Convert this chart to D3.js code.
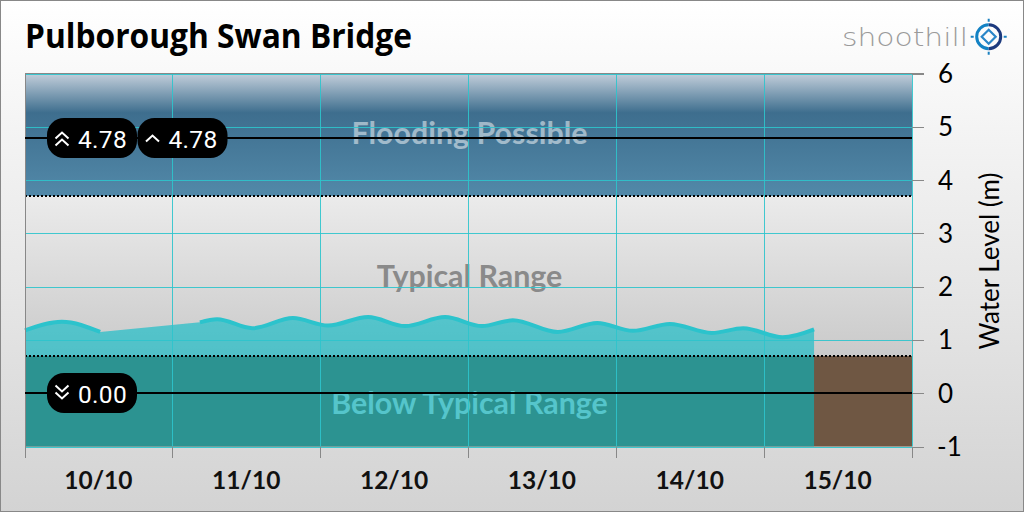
<!DOCTYPE html>
<html><head><meta charset="utf-8">
<script src="https://cdn.jsdelivr.net/npm/d3@7"></script>
<style>html,body{margin:0;padding:0;background:#fff}svg{display:block}</style>
</head><body><svg id="c" width="1024" height="512"></svg>
<script>
const title="Pulborough Swan Bridge";
const dayLabels=["10/10","11/10","12/10","13/10","14/10","15/10"];
const yTicks=[-1,0,1,2,3,4,5,6];
const hours=[0,6,12.2,28.4,31.2,36.9,43.5,49.2,55.7,61.7,68.2,74.2,79.2,86.5,92.9,98.7,104.7,111.5,116.6,123,128.1];
const levels=[1.18,1.34,1.15,1.33,1.39,1.22,1.41,1.27,1.43,1.26,1.43,1.26,1.37,1.15,1.32,1.17,1.30,1.13,1.22,1.05,1.2];
const gapFrom=12.2, gapTo=28.4;
const thresholds=[{v:4.78,labels:[["double",4.78],["single",4.78]]},{v:0,labels:[["down",0]]}];
const bands=[{name:"Flooding Possible",from:3.7,to:6},{name:"Typical Range",from:0.7,to:3.7},{name:"Below Typical Range",from:-1,to:0.7}];
const L=25,R=912,T=73.5,B=446.5;
const x=d3.scaleLinear().domain([0,144]).range([L,R]);
const y=d3.scaleLinear().domain([-1,6]).range([B,T]);
const svg=d3.select("#c"),defs=svg.append("defs");
function grad(id,stops,x1,y1,x2,y2){const g=defs.append("linearGradient").attr("id",id).attr("x1",x1).attr("x2",x2).attr("y1",y1).attr("y2",y2);
 stops.forEach(s=>g.append("stop").attr("offset",s[0]).attr("stop-color",s[1]));}
grad("bg",[[0,"#ffffff"],[1,"#d3d3d3"]],0,0,0,1);
grad("fl",[[0,"#c3cfdb"],[0.32,"#3e6e8e"],[1,"#5289a9"]],0,0,0,1);
grad("ty",[[0,"#ebebeb"],[1,"#cacaca"]],0,0,0,1);
svg.append("rect").attr("x",.5).attr("y",.5).attr("width",1023).attr("height",511).attr("fill","url(#bg)").attr("stroke","#888");
svg.append("rect").attr("x",L).attr("y",y(6)).attr("width",R-L).attr("height",y(3.7)-y(6)).attr("fill","url(#fl)");
svg.append("rect").attr("x",L).attr("y",y(3.7)).attr("width",R-L).attr("height",y(0.7)-y(3.7)).attr("fill","url(#ty)");
svg.append("rect").attr("x",L).attr("y",y(0.7)).attr("width",R-L).attr("height",y(-1)-y(0.7)).attr("fill","#6f5743");
// area and line: two measured stretches, straight across the gap
const pts=hours.map((h,i)=>({h,v:levels[i]}));
const before=pts.filter(d=>d.h<=gapFrom), after=pts.filter(d=>d.h>=gapTo);
const bridge=pts.filter(d=>d.h>=gapFrom&&d.h<=gapTo);
const curve=d3.curveMonotoneX;
const areaGen=d3.area().x(d=>x(d.h)).y0(y(-1)).y1(d=>y(d.v)).curve(curve);
const areaStraight=d3.area().x(d=>x(d.h)).y0(y(-1)).y1(d=>y(d.v));
svg.append("path").attr("fill","rgb(0,187,198)").attr("fill-opacity",.6)
 .attr("d",areaGen(before)+areaStraight(bridge)+areaGen(after));
// band labels
const fonts="Lato, 'Open Sans', sans-serif";
const bandColors=["rgba(255,255,255,0.5)","#8a8a8a","#55c5cb"], bandY=[144,287,414];
svg.selectAll(".bl").data(bands).join("text").attr("x",(L+R)/2+1).attr("y",(d,i)=>bandY[i]).attr("text-anchor","middle")
 .attr("font-family",fonts).attr("font-weight",700).attr("font-size",30.4).attr("fill",(d,i)=>bandColors[i]).text(d=>d.name);
// grid
const gridC="#2ec4cc";
const py=v=>Math.round(y(v))+.5;
const xTicks=d3.range(0,145,24);
const px=h=>Math.floor(x(h))+.5;
svg.selectAll(".gy").data(yTicks).join("line").attr("x1",L).attr("x2",R).attr("y1",d=>py(d)).attr("y2",d=>py(d)).attr("stroke",gridC).attr("stroke-opacity",.9);
svg.selectAll(".gx").data(xTicks).join("line").attr("x1",d=>px(d)).attr("x2",d=>px(d)).attr("y1",T).attr("y2",B).attr("stroke",gridC).attr("stroke-opacity",.9);
const lineGen=d3.line().x(d=>x(d.h)).y(d=>y(d.v)).curve(curve);
[before,after].forEach(seg=>svg.append("path").attr("fill","none").attr("stroke","#2cc3cc").attr("stroke-width",4).attr("d",lineGen(seg)));
// dotted band lines
[3.7,0.7].forEach(v=>svg.append("line").attr("x1",L).attr("x2",R).attr("y1",Math.round(y(v))).attr("y2",Math.round(y(v))).attr("stroke","#000").attr("stroke-width",2).attr("stroke-dasharray","2 2"));
// axes frame
const axC="#888";
svg.append("line").attr("x1",L).attr("x2",924).attr("y1",73.5).attr("y2",73.5).attr("stroke",axC);
svg.append("line").attr("x1",L+.5).attr("x2",L+.5).attr("y1",T).attr("y2",458).attr("stroke",axC);
svg.selectAll(".ty").data(yTicks).join("line").attr("x1",R).attr("x2",924).attr("y1",d=>py(d)).attr("y2",d=>py(d)).attr("stroke",axC);
svg.selectAll(".tx").data(xTicks).join("line").attr("x1",d=>px(d)).attr("x2",d=>px(d)).attr("y1",B+.5).attr("y2",458).attr("stroke",axC);
svg.selectAll(".yl").data(yTicks).join("text").attr("x",d=>d<0?937:938).attr("y",d=>y(d)+9.5).attr("font-family",fonts).attr("font-size",26).attr("fill","#000").text(d=>d);
svg.selectAll(".xl").data(dayLabels).join("text").attr("x",(d,i)=>x(i*24+12)-.5).attr("y",489).attr("text-anchor","middle").attr("font-family",fonts).attr("font-weight",700).attr("font-size",24.5).attr("fill","#111").text(d=>d);
svg.append("text").attr("transform","translate(999,261) rotate(-90)").attr("text-anchor","middle").attr("font-family",fonts).attr("font-size",26).attr("fill","#000").text("Water Level (m)");
svg.append("text").attr("x",25).attr("y",48).attr("font-family","'Open Sans', sans-serif").attr("font-weight",700).attr("font-size",33.5).attr("textLength",387).attr("lengthAdjust","spacingAndGlyphs").attr("fill","#000").text(title);
// thresholds and badges
thresholds.forEach(t=>{
 const ly=Math.floor(y(t.v));
 svg.append("line").attr("x1",L).attr("x2",R).attr("y1",ly).attr("y2",ly).attr("stroke","#000").attr("stroke-width",2);
 t.labels.forEach((l,i)=>{
  const g=svg.append("g").attr("transform",`translate(${47+i*90.5},${ly-20})`);
  g.append("rect").attr("width",90).attr("height",40).attr("rx",17).attr("fill","#000");
  const chev=(dir,cy)=>g.append("path").attr("d",`M8.5,${cy+dir*3.5}L15,${cy-dir*2.5}L21.5,${cy+dir*3.5}`).attr("fill","none").attr("stroke","#fff").attr("stroke-width",2);
  if(l[0]==="double"){chev(1,17);chev(1,24);}
  else if(l[0]==="single"){chev(1,20);}
  else{chev(-1,16);chev(-1,23);}
  g.append("text").attr("x",31).attr("y",29.5).attr("font-family","Roboto, sans-serif").attr("font-size",24.5).attr("letter-spacing",.3).attr("fill","#fff").text(l[1].toFixed(2));
 });
});
// logo
svg.append("text").attr("x",842).attr("y",46).attr("font-family","'DejaVu Sans', sans-serif").attr("font-weight",200).attr("font-size",24).attr("textLength",126).attr("lengthAdjust","spacingAndGlyphs").attr("fill","#9a9a9a").text("shoothill");
const lg=svg.append("g").attr("transform","translate(988.7,36.7)").attr("fill","none");
lg.append("path").attr("d","M0,-12A12,12 0 0 0 0,12").attr("stroke","#1382c4").attr("stroke-width",3);
lg.append("path").attr("d","M0,-12A12,12 0 0 1 0,12").attr("stroke","#1c3a7e").attr("stroke-width",3);
lg.append("path").attr("d","M0,-7L7,0L0,7L-7,0Z").attr("stroke","#2a86c8").attr("stroke-width",2.2);
lg.append("path").attr("d","M0,-18V-15M0,15V18M-18,0H-15M15,0H18").attr("stroke","#1a80c0").attr("stroke-width",2);
</script></body></html>
